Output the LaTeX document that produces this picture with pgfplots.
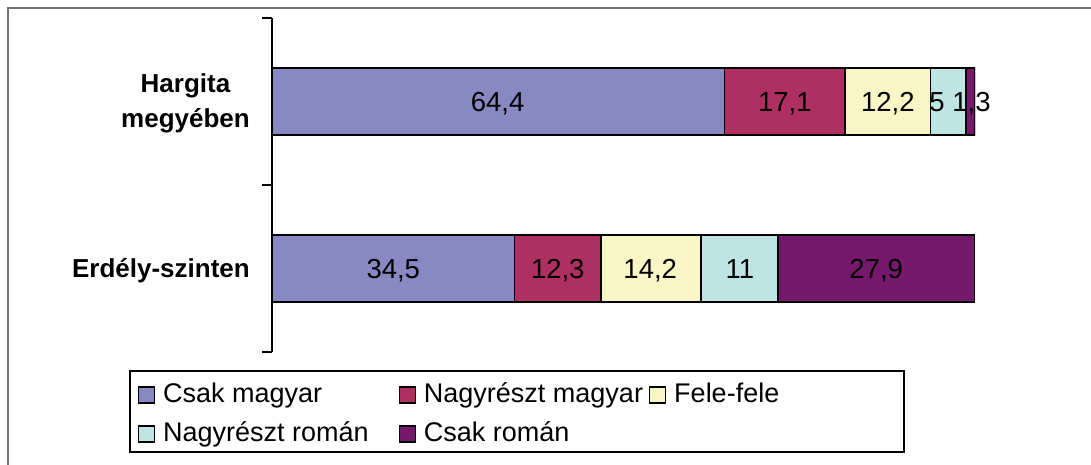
\documentclass[border=0pt]{standalone}
\usepackage{fontspec}
\setmainfont{Liberation Sans}
\usepackage{pgfplots}
\pgfplotsset{compat=1.18}
\definecolor{cA}{RGB}{136,136,194}
\definecolor{cB}{RGB}{174,48,96}
\definecolor{cC}{RGB}{248,246,196}
\definecolor{cD}{RGB}{190,228,228}
\definecolor{cE}{RGB}{118,24,108}
\definecolor{framegray}{RGB}{115,115,115}
\begin{document}
\begin{tikzpicture}[x=1pt,y=1pt]
\useasboundingbox (0,0) rectangle (1091,465);
\draw[framegray, line width=2pt] (8,0) -- (8,457) -- (1091,457);
\draw[black, line width=1.6pt] (130,13) rectangle (904,94);
\begin{axis}[
  at={(272pt,113pt)}, anchor=south west,
  scale only axis, width=703pt, height=334pt,
  xbar stacked, bar width=67pt,
  xmin=0, xmax=100, ymin=-0.5, ymax=1.5,
  axis x line=none, axis y line*=left,
  y axis line style={black, line width=1.6pt},
  ytick={0,1}, yticklabels={Erdély-szinten,{Hargita\\megyében}},
  yticklabel style={font=\fontsize{26}{35}\selectfont\bfseries, align=center, inner sep=0pt, xshift=-22pt, yshift=-2pt},
  major tick length=0pt,
  extra y ticks={-0.5,0.5,1.5},
  extra y tick labels={},
  extra y tick style={major tick length=10pt, tick align=outside, tick style={black, line width=1.6pt}},
  legend columns=3,
  legend cell align=left,
  legend style={draw=none, fill=none, at={(axis description cs:-0.19061,-0.09283)}, anchor=north west,
    font=\fontsize{27}{31}\selectfont, inner sep=0pt, outer sep=0pt, row sep=15pt, column sep=8pt,
    nodes={inner sep=0pt, text height=19pt, text depth=5pt},
    /tikz/column 2/.style={column sep=30pt}, /tikz/column 4/.style={column sep=6pt}},
  legend image code/.code={\draw[#1, draw=black, line width=1.2pt] (0pt,-8pt) rectangle (16pt,8pt);},
]
\addplot[fill=cA, draw=black, line width=1.4pt] coordinates {(34.5,0) (64.4,1)};
\addlegendentry{Csak magyar}
\addplot[fill=cB, draw=black, line width=1.4pt] coordinates {(12.3,0) (17.1,1)};
\addlegendentry{Nagyrészt magyar}
\addplot[fill=cC, draw=black, line width=1.4pt] coordinates {(14.2,0) (12.2,1)};
\addlegendentry{Fele-fele}
\addplot[fill=cD, draw=black, line width=1.4pt] coordinates {(11,0) (5,1)};
\addlegendentry{Nagyrészt román}
\addplot[fill=cE, draw=black, line width=1.4pt] coordinates {(27.9,0) (1.3,1)};
\addlegendentry{Csak román}
\end{axis}
\begin{axis}[
  at={(272pt,113pt)}, anchor=south west,
  scale only axis, width=703pt, height=334pt,
  xmin=0, xmax=100, ymin=-0.5, ymax=1.5,
  hide axis, clip=false,
]
\addplot[only marks, mark=none,
  nodes near coords, point meta=explicit symbolic,
  every node near coord/.append style={anchor=base, yshift=-9.6pt, color=black, inner sep=0pt, font=\fontsize{27.5}{31}\selectfont}]
  table[meta=label, header=true] {
x y label
32.1 1 64,4
72.95 1 17,1
87.6 1 12,2
94.6 1 5
99.5 1 1,3
17.25 0 34,5
40.65 0 12,3
53.8 0 14,2
66.55 0 11
85.95 0 27,9
};
\end{axis}
\end{tikzpicture}
\end{document}
